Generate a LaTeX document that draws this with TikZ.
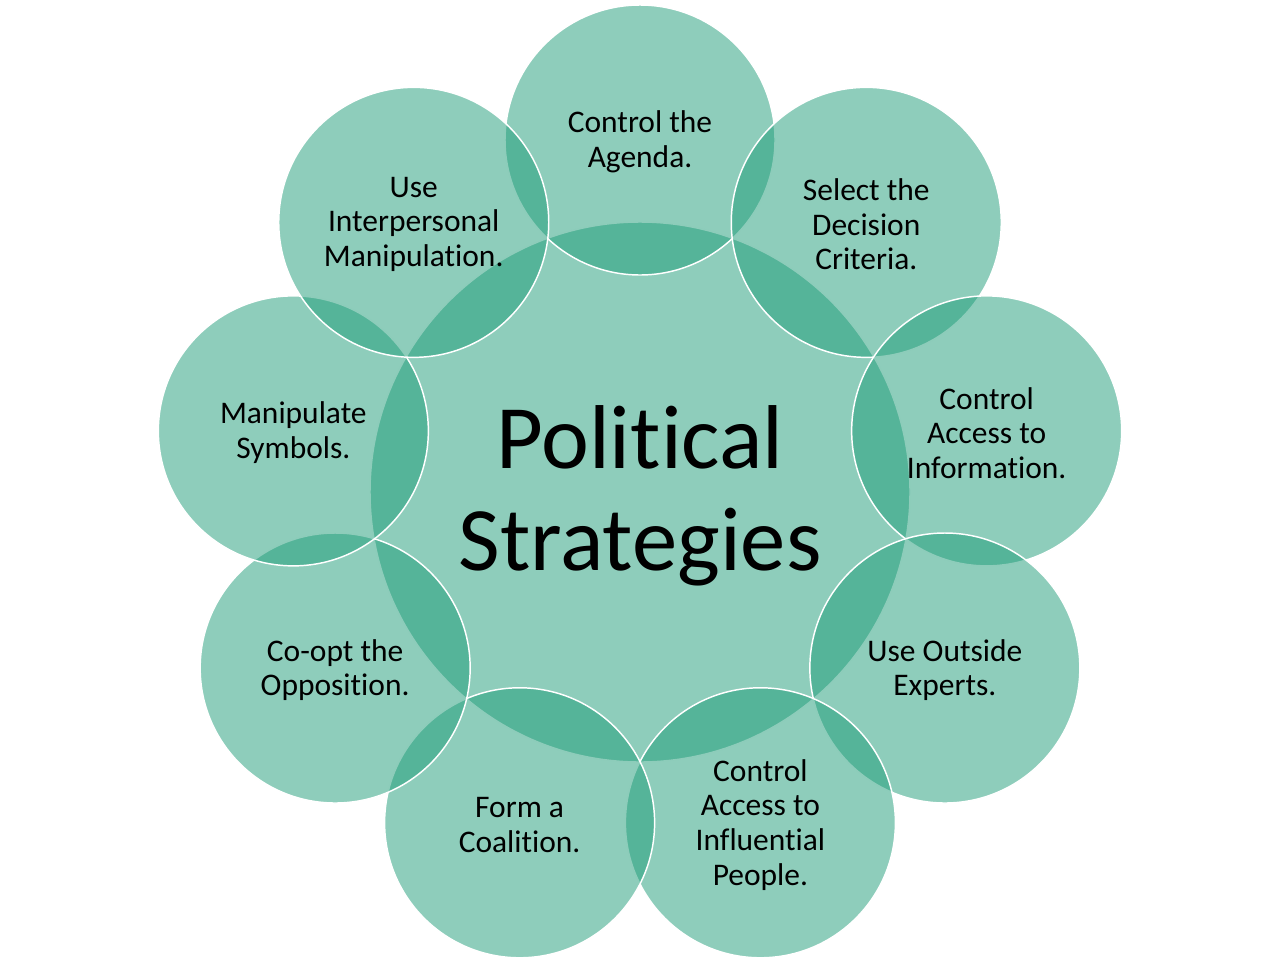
\documentclass[tikz,border=0pt]{standalone}
\usepackage{fontspec}
\setmainfont{Carlito}[Ligatures={NoCommon,NoRequired,NoContextual}]
\definecolor{petal}{RGB}{29,155,119}
\tikzset{
  bubble/.style={circle, inner sep=0pt, minimum size=202.5pt, fill=petal, fill opacity=0.5, draw=white, line width=1.1pt},
  hub/.style={bubble, minimum size=405pt},
  smalltext/.style={align=center, text=black, inner sep=0pt, font=\fontsize{23.6}{26}\selectfont},
  bigtext/.style={align=center, text=black, inner sep=0pt, font=\fontsize{68}{76.5}\selectfont}
}
\begin{document}
\begin{tikzpicture}[x=0.75pt,y=-0.75pt]
\useasboundingbox (0,0) rectangle (1280,964);
\node[hub] (c) at (640,492) {};
\foreach \k in {0,...,8}{
  \pgfmathsetmacro{\ang}{90-40*\k}
  \node[bubble] (c\k) at ({640+352*cos(\ang)},{492-352*sin(\ang)}) {};
}
\node[bigtext] (tc) at ([yshift=-3pt]c.center) {Political\\Strategies};
\node[smalltext] (t0) at ([yshift=-1.5pt]c0.center) {Control the\\Agenda.};
\node[smalltext] (t1) at ([yshift=-1.5pt]c1.center) {Select the\\Decision\\Criteria.};
\node[smalltext] (t2) at ([yshift=-1.5pt]c2.center) {Control\\Access to\\Information.};
\node[smalltext] (t3) at ([yshift=-1.5pt]c3.center) {Use Outside\\Experts.};
\node[smalltext] (t4) at ([yshift=-1.5pt]c4.center) {Control\\Access to\\Influential\\People.};
\node[smalltext] (t5) at ([yshift=-1.5pt]c5.center) {Form a\\Coalition.};
\node[smalltext] (t6) at ([yshift=-1.5pt]c6.center) {Co-opt the\\Opposition.};
\node[smalltext] (t7) at ([yshift=-1.5pt]c7.center) {Manipulate\\Symbols.};
\node[smalltext] (t8) at ([yshift=-1.5pt]c8.center) {Use\\Interpersonal\\Manipulation.};
\end{tikzpicture}
\end{document}
